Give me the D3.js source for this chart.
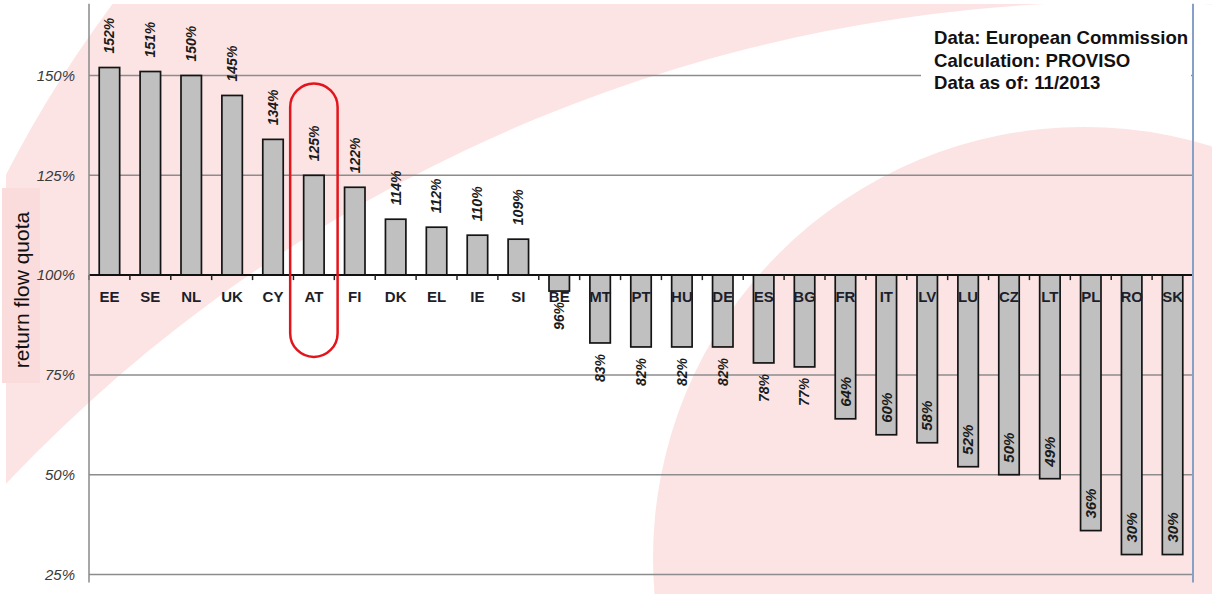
<!DOCTYPE html>
<html>
<head>
<meta charset="utf-8">
<script src="https://cdn.jsdelivr.net/npm/d3@7"></script>
<style>
  body { margin: 0; background: #fff; }
  svg { display: block; font-family: "Liberation Sans", Arial, sans-serif; }
</style>
</head>
<body>
<svg id="chart" width="1212" height="594"></svg>
<script>
// return flow quota per member state (in %)
var countries = ['EE', 'SE', 'NL', 'UK', 'CY', 'AT', 'FI', 'DK', 'EL', 'IE', 'SI', 'BE', 'MT',
    'PT', 'HU', 'DE', 'ES', 'BG', 'FR', 'IT', 'LV', 'LU', 'CZ', 'LT', 'PL', 'RO', 'SK'];
var quota = [152, 151, 150, 145, 134, 125, 122, 114, 112, 110, 109, 96, 83,
    82, 82, 82, 78, 77, 64, 60, 58, 52, 50, 49, 36, 30, 30];
var yTicks = [25, 50, 75, 100, 125, 150];
var notes = ['Data: European Commission', 'Calculation: PROVISO', 'Data as of: 11/2013'];
var highlight = 'AT';
var highlightSpan = [148, 79.5];

var width = 1212, height = 594;
var left = 89, right = 1193;
var base = 100;

var svg = d3.select('#chart');

var x = d3.scaleBand()
    .domain(countries)
    .range([left, right])
    .paddingInner(0.5)
    .paddingOuter(0.25);

var y = d3.scaleLinear().domain([25, 150]).range([574.5, 75.5]);

var data = countries.map(function(c, i) {
    return { key: c, value: quota[i] };
});

// background decoration (pink swooshes)
svg.append('clipPath').attr('id', 'page')
    .append('rect').attr('x', 6).attr('y', 4).attr('width', width - 6).attr('height', height - 4);
var bg = svg.append('g').attr('clip-path', 'url(#page)');
var pink = '#fce4e4';
bg.append('circle').attr('cx', 1074).attr('cy', 722).attr('r', 1200).attr('fill', pink);
bg.append('circle').attr('cx', 1124).attr('cy', 1540).attr('r', 1538).attr('fill', '#fff');
bg.append('circle').attr('cx', 1084).attr('cy', 558).attr('r', 431).attr('fill', pink);

// axis title box
svg.append('rect')
    .attr('x', 2).attr('y', 188).attr('width', 38).attr('height', 195)
    .attr('fill', '#fadcdc');
svg.append('text')
    .attr('transform', 'translate(22,' + 290 + ') rotate(-90)')
    .attr('text-anchor', 'middle')
    .attr('dy', '0.35em')
    .attr('font-size', 21)
    .attr('fill', '#111')
    .text('return flow quota');

// gridlines
svg.append('g')
    .selectAll('line')
    .data(yTicks.filter(function(t) { return t !== base; }))
    .enter()
    .append('line')
    .attr('x1', left).attr('x2', right)
    .attr('y1', function(d) { return y(d); })
    .attr('y2', function(d) { return y(d); })
    .attr('stroke', '#8c8c8c')
    .attr('stroke-width', 1.5);

// y tick labels
svg.append('g')
    .selectAll('text')
    .data(yTicks)
    .enter()
    .append('text')
    .attr('x', 75)
    .attr('y', function(d) { return y(d); })
    .attr('dy', '0.35em')
    .attr('text-anchor', 'end')
    .attr('font-size', 15)
    .attr('font-style', 'italic')
    .attr('fill', '#3a3a3a')
    .text(function(d) { return d + '%'; });

// bars
svg.append('g')
    .selectAll('rect')
    .data(data)
    .enter()
    .append('rect')
    .attr('x', function(d) { return x(d.key); })
    .attr('width', x.bandwidth())
    .attr('y', function(d) { return y(Math.max(d.value, base)); })
    .attr('height', function(d) { return Math.abs(y(d.value) - y(base)); })
    .attr('fill', '#c0c0c0')
    .attr('stroke', '#141414')
    .attr('stroke-width', 1.7);

// baseline at 100% with ticks between categories
svg.append('line')
    .attr('x1', left).attr('x2', right)
    .attr('y1', y(base)).attr('y2', y(base))
    .attr('stroke', '#111')
    .attr('stroke-width', 2);

var half = x.step() * x.paddingInner() / 2;
svg.append('g')
    .selectAll('line')
    .data(countries)
    .enter()
    .append('line')
    .attr('x1', function(d) { return x(d) - half; })
    .attr('x2', function(d) { return x(d) - half; })
    .attr('y1', y(base))
    .attr('y2', y(base) + 5)
    .attr('stroke', '#222')
    .attr('stroke-width', 1.5);

// category labels
svg.append('g')
    .selectAll('text')
    .data(countries)
    .enter()
    .append('text')
    .attr('x', function(d) { return x(d) + x.bandwidth() / 2; })
    .attr('y', y(base) + 27)
    .attr('text-anchor', 'middle')
    .attr('font-size', 15)
    .attr('font-weight', 'bold')
    .attr('fill', '#1e1e2a')
    .text(function(d) { return d; });

// value labels, rotated
svg.append('g')
    .selectAll('text')
    .data(data)
    .enter()
    .append('text')
    .attr('transform', function(d) {
        var cx = x(d.key) + x.bandwidth() / 2;
        var cy;
        if (d.value > base) cy = y(d.value) - 14;
        else if (d.value >= 70) cy = y(d.value) + 11;
        else cy = y(d.value) - 12;
        return 'translate(' + cx + ',' + cy + ') rotate(-90)';
    })
    .attr('text-anchor', function(d) {
        return d.value < base && d.value >= 70 ? 'end' : 'start';
    })
    .attr('dy', '0.35em')
    .attr('font-size', function(d) { return d.value < 70 ? 15 : 14; })
    .attr('font-weight', 'bold')
    .attr('font-style', 'italic')
    .attr('fill', '#1a1a1a')
    .text(function(d) { return d.value + '%'; });

// y axis line
svg.append('line')
    .attr('x1', left).attr('x2', left)
    .attr('y1', y(168)).attr('y2', y(23))
    .attr('stroke', '#8a8a8a')
    .attr('stroke-width', 1.5);

// right border
svg.append('line')
    .attr('x1', right).attr('x2', right)
    .attr('y1', y(168)).attr('y2', y(23))
    .attr('stroke', '#86a0c8')
    .attr('stroke-width', 2);

// highlight around AT
var hw = x.step() * 0.58;
svg.append('rect')
    .attr('x', x(highlight) + x.bandwidth() / 2 - hw)
    .attr('y', y(highlightSpan[0]))
    .attr('width', hw * 2)
    .attr('height', y(highlightSpan[1]) - y(highlightSpan[0]))
    .attr('rx', hw).attr('ry', hw)
    .attr('fill', 'none')
    .attr('stroke', '#e3141c')
    .attr('stroke-width', 2.5);

// source note
svg.append('rect')
    .attr('x', 921).attr('y', 16).attr('width', 270).attr('height', 84)
    .attr('fill', '#fff');
svg.append('g')
    .selectAll('text')
    .data(notes)
    .enter()
    .append('text')
    .attr('x', 934)
    .attr('y', function(d, i) { return 44 + i * 22.5; })
    .attr('font-size', 18.6)
    .attr('font-weight', 'bold')
    .attr('fill', '#111')
    .text(function(d) { return d; });
</script>
</body>
</html>
